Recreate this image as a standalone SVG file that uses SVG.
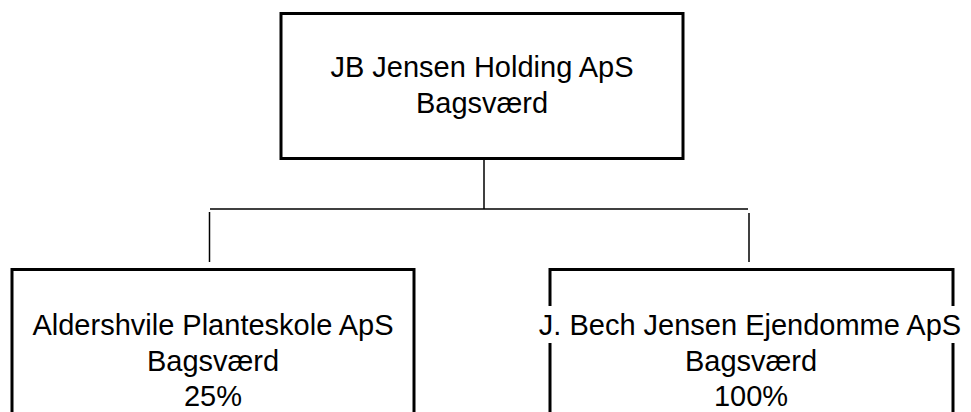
<svg xmlns="http://www.w3.org/2000/svg" width="971" height="412" viewBox="0 0 971 412">
  <style>
    .box { fill: #ffffff; stroke: #000000; stroke-width: 3; }
    .conn { stroke: #000000; stroke-width: 1.5; fill: none; }
    .lbl { font-family: "Liberation Sans", Arial, Helvetica, sans-serif; font-size: 29px; fill: #000000; text-anchor: middle; }
  </style>
  <rect width="971" height="412" fill="#ffffff"/>
  <g id="connectors">
    <line class="conn" x1="484" y1="158.5" x2="484" y2="209"/>
    <line class="conn" x1="210" y1="209" x2="748" y2="209"/>
    <line class="conn" x1="209.5" y1="212" x2="209.5" y2="262"/>
    <line class="conn" x1="749" y1="213" x2="749" y2="262"/>
  </g>
  <g id="node-holding">
    <rect class="box" x="281" y="13.5" width="402" height="145"/>
    <text class="lbl" x="482" y="77">JB Jensen Holding ApS</text>
    <text class="lbl" x="482" y="113">Bagsværd</text>
  </g>
  <g id="node-aldershvile">
    <rect class="box" x="12" y="269.5" width="402" height="145"/>
    <text class="lbl" x="213" y="335">Aldershvile Planteskole ApS</text>
    <text class="lbl" x="213" y="370.5">Bagsværd</text>
    <text class="lbl" x="213" y="406">25%</text>
  </g>
  <g id="node-ejendomme">
    <rect class="box" x="550" y="269.5" width="403" height="145"/>
    <rect x="535" y="306" width="432" height="37" fill="#ffffff"/>
    <text class="lbl" x="750" y="335">J. Bech Jensen Ejendomme ApS</text>
    <text class="lbl" x="751" y="370.5">Bagsværd</text>
    <text class="lbl" x="751" y="406">100%</text>
  </g>
</svg>
